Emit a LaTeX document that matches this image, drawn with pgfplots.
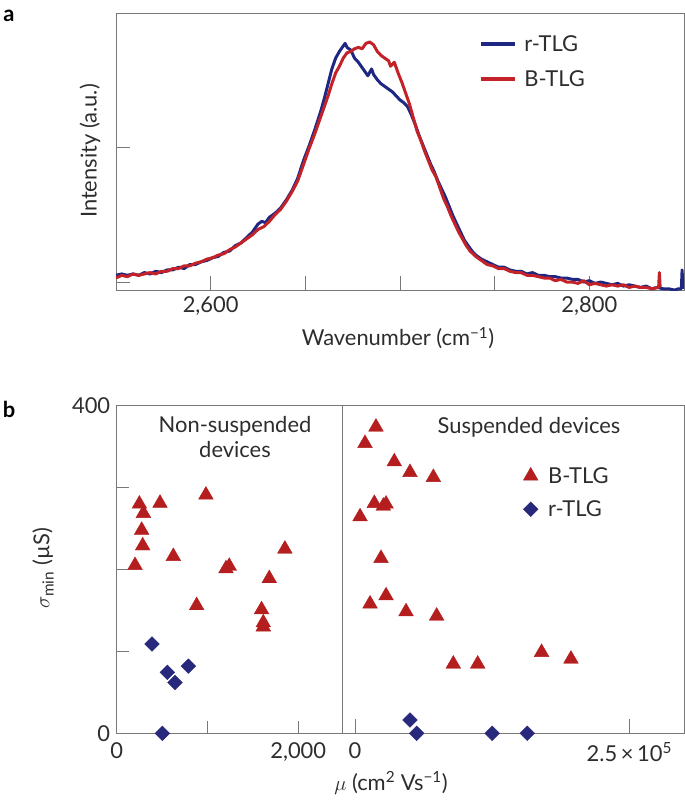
\documentclass[border=0pt]{standalone}
\usepackage{pgfplots}
\pgfplotsset{compat=1.18}
\usepackage{fontspec}
\setmainfont{Lato}
\definecolor{lblue}{RGB}{30,40,130}
\definecolor{lred}{RGB}{195,35,40}
\definecolor{mred}{RGB}{180,30,30}
\definecolor{mblue}{RGB}{40,40,125}
\definecolor{txt}{RGB}{45,45,45}
\definecolor{axc}{RGB}{120,120,120}
\pgfplotstableread{
x y
2550 .05
2553 .06
2556 .05
2559 .06
2562 .05
2565 .07
2568 .06
2571 .08
2574 .07
2577 .09
2580 .09
2583 .11
2586 .10
2589 .13
2592 .13
2595 .15
2598 .16
2601 .18
2604 .19
2607 .22
2610 .23
2613 .27
2616 .29
2619 .33
2622 .37
2625 .43
2627 .45
2629 .44
2631 .48
2634 .51
2637 .55
2640 .61
2643 .68
2646 .77
2649 .90
2652 1.01
2655 1.13
2658 1.26
2660 1.36
2662 1.47
2664 1.58
2666 1.66
2668 1.71
2670 1.75
2671 1.77
2672 1.74
2674 1.72
2676 1.66
2678 1.63
2680 1.59
2682 1.55
2683 1.53
2685 1.58
2686 1.54
2688 1.50
2690 1.47
2692 1.45
2694 1.43
2696 1.41
2698 1.38
2700 1.35
2702 1.33
2704 1.30
2706 1.24
2708 1.17
2710 1.09
2712 1.02
2714 0.95
2716 0.88
2718 0.82
2720 0.75
2722 0.69
2724 0.63
2726 0.56
2728 0.49
2730 0.43
2732 0.37
2734 0.31
2736 0.27
2738 0.23
2740 0.20
2743 0.17
2746 0.15
2749 0.13
2752 0.11
2755 0.11
2758 0.09
2761 0.08
2764 0.08
2767 0.06
2770 0.07
2773 0.05
2776 0.05
2779 0.04
2782 0.04
2785 0.03
2788 0.03
2791 0.02
2794 0.02
2797 0.00
2800 0.01
2803 -0.01
2806 0.00
2809 -0.01
2812 -0.02
2815 -0.01
2818 -0.03
2821 -0.02
2824 -0.03
2827 -0.04
2830 -0.03
2833 -0.05
2836 -0.04
2839 -0.05
2842 -0.05
2845 -0.06
2847 -0.05
2848.6 -0.05
2849 0.09
2849.4 -0.05
}\rtlg
\pgfplotstableread{
x y
2550 .03
2553 .05
2556 .04
2559 .06
2562 .05
2565 .06
2568 .07
2571 .06
2574 .08
2577 .08
2580 .10
2583 .10
2586 .12
2589 .12
2592 .14
2595 .15
2598 .17
2601 .18
2604 .20
2607 .21
2610 .24
2613 .26
2616 .29
2619 .32
2622 .35
2625 .39
2628 .41
2631 .45
2634 .50
2637 .54
2640 .60
2643 .67
2646 .75
2649 .87
2652 .99
2655 1.10
2658 1.22
2660 1.30
2662 1.38
2664 1.47
2666 1.55
2668 1.60
2670 1.66
2672 1.70
2674 1.71
2676 1.73
2678 1.74
2680 1.73
2682 1.77
2684 1.78
2686 1.76
2688 1.71
2690 1.68
2692 1.66
2694 1.64
2695 1.60
2697 1.63
2699 1.55
2701 1.48
2703 1.40
2705 1.32
2707 1.22
2709 1.12
2711 1.05
2713 0.97
2715 0.90
2717 0.83
2719 0.78
2721 0.70
2723 0.62
2725 0.56
2727 0.49
2729 0.43
2731 0.37
2733 0.32
2735 0.27
2737 0.23
2740 0.19
2743 0.16
2746 0.13
2749 0.12
2752 0.10
2755 0.10
2758 0.08
2761 0.07
2764 0.07
2767 0.05
2770 0.05
2773 0.04
2776 0.03
2779 0.03
2782 0.01
2785 0.02
2788 0.00
2791 0.00
2794 -0.01
2797 0.01
2800 -0.02
2803 -0.01
2806 -0.02
2809 -0.03
2812 -0.02
2815 -0.03
2818 -0.02
2821 -0.04
2824 -0.03
2827 -0.04
2830 -0.04
2833 -0.05
2836 -0.04
2836.6 -0.04
2837 0.07
2837.4 -0.04
}\btlg
\pgfplotstableread{
x y
250 280
294 268.6
275 248
286 229
202 205
477 281
624 216
983 291
881 156
1204 201
1240 204
1681 189
1853 225
1596 151
1615 135
1615 130
}\nsB
\pgfplotstableread{
x y
389 109
558 74.5
642 62
789 82
503 0
}\nsR
\pgfplotstableread{
x y
19100 374
9100 354
35800 331.6
50100 318.6
71400 312.5
17600 280.8
25800 277.5
28300 280
4600 264.5
23700 213.6
13700 158
28300 168
46500 148.5
74400 143.2
89600 84.6
111800 84.6
170000 98.9
196800 90.7
}\sB
\pgfplotstableread{
x y
50100 16.3
56200 0
125000 0
157000 0
}\sR
\pgfplotsset{
  base/.style={
    scale only axis, anchor=south west,
    axis line style={axc, line width=0.9bp},
    tick style={axc, line width=0.9bp},
    tick align=inside, major tick length=14bp,
    xtick pos=bottom, ytick pos=left,
    ticklabel style={font=\fontsize{22}{26}\selectfont, text=txt},
    scaled ticks=false,
  }
}
\begin{document}
\begin{tikzpicture}
\path[use as bounding box] (0,0) rectangle (685bp,-801bp);
% panel a
\begin{axis}[base,
  at={(116bp,-290bp)}, width=568bp, height=277bp,
  xmin=2550, xmax=2850, ymin=-0.059, ymax=1.995,
  xtick={2600,2650,2700,2750,2800}, xticklabels={2{,}600,,,,2{,}800},
  xticklabel style={yshift=-3bp},
  ytick={0,1}, yticklabels={,},
  legend style={at={(0.633,0.935)}, anchor=north west, draw=none, fill=none,
    font=\fontsize{22}{26}\selectfont, text=txt, row sep=14bp},
  legend cell align=left,
  legend image code/.code={\draw[#1, line width=3.6bp] (0bp,0bp) -- (34bp,0bp);},
]
\addplot[lblue, line width=3bp, line join=round] table[x=x,y=y]{\rtlg};
\addlegendentry{\hspace{6bp}r-TLG}
\addplot[lred, line width=3bp, line join=round] table[x=x,y=y]{\btlg};
\addlegendentry{\hspace{6bp}B-TLG}
\end{axis}
\node[font=\bfseries\fontsize{22}{26}\selectfont, text=black] at (9bp,-16bp) {a};
\node[font=\fontsize{22}{26}\selectfont, text=txt, rotate=90] at (90bp,-151bp) {Intensity (a.u.)};
\node[font=\fontsize{22}{26}\selectfont, text=txt] at (398bp,-338bp) {Wavenumber (cm\textsuperscript{−1})};
% panel b left
\begin{axis}[base, clip=false,
  at={(116.7bp,-733.3bp)}, width=226bp, height=327.6bp,
  xmin=0, xmax=2490, ymin=0, ymax=400,
  major tick length=12bp,
  xtick={0,1000,2000}, xticklabels={0,,2{,}000},
  xticklabel style={yshift=-6bp},
  yticklabel style={xshift=-3bp},
  ytick={0,100,200,300,400}, yticklabels={0,,,,400},
]
\addplot[only marks, mark=triangle*, mark size=8.5bp, mred, mark options={draw=mred, fill=mred}] table[x=x,y=y]{\nsB};
\addplot[only marks, mark=square*, mark size=5.2bp, mblue, mark options={rotate=45, draw=mblue, fill=mblue}] table[x=x,y=y]{\nsR};
\end{axis}
% panel b right
\begin{axis}[base, clip=false,
  at={(342.7bp,-733.3bp)}, width=341.3bp, height=327.6bp,
  xmin=-11210, xmax=299800, ymin=0, ymax=400,
  major tick length=14bp,
  xtick={0,250000}, xticklabels={0,2.5\,×\,10\textsuperscript{5}},
  xticklabel style={yshift=-6bp},
  ytick=\empty,
  legend style={at={(0.52,0.825)}, anchor=north west, draw=none, fill=none,
    font=\fontsize{22}{26}\selectfont, text=txt, row sep=12bp},
  legend cell align=left,
]
\addplot[only marks, mark=triangle*, mark size=8.5bp, mred, mark options={draw=mred, fill=mred}] table[x=x,y=y]{\sB};
\addlegendentry{\hspace{8bp}B-TLG}
\addplot[only marks, mark=square*, mark size=5.2bp, mblue, mark options={rotate=45, draw=mblue, fill=mblue}] table[x=x,y=y]{\sR};
\addlegendentry{\hspace{8bp}r-TLG}
\end{axis}
\node[font=\bfseries\fontsize{22}{26}\selectfont, text=black] at (9bp,-409bp) {b};
\node[font=\fontsize{22}{26}\selectfont, text=txt, align=center] at (235bp,-437bp) {Non-suspended\\devices};
\node[font=\fontsize{22}{26}\selectfont, text=txt] at (529bp,-427bp) {Suspended devices};
\node[font=\fontsize{22}{26}\selectfont, text=txt, rotate=90] at (43bp,-568bp) {$\sigma_{\mathrm{min}}$ (µS)};
\node[font=\fontsize{22}{26}\selectfont, text=txt] at (391bp,-783bp) {$\mu$ (cm\textsuperscript{2} Vs\textsuperscript{−1})};
\end{tikzpicture}
\end{document}
